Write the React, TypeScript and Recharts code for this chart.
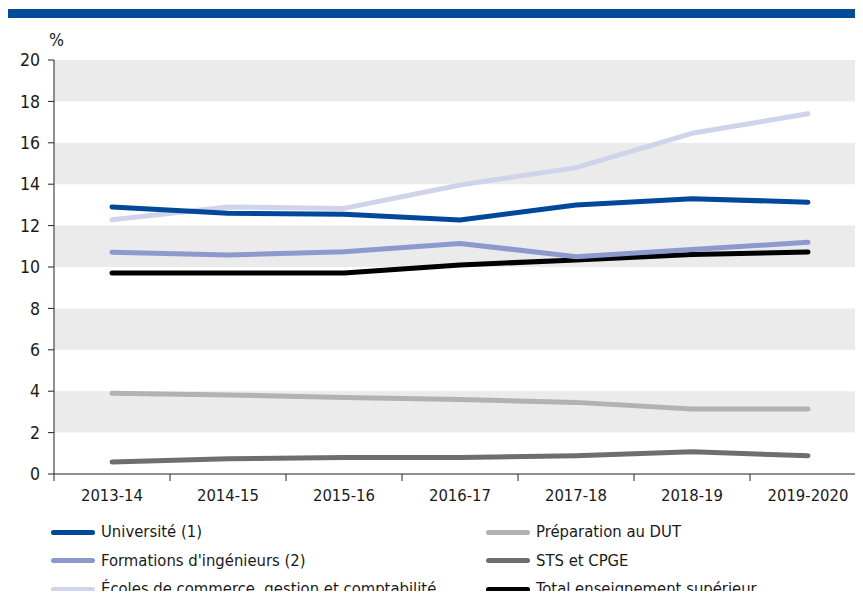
import React from 'react';
import { LineChart, Line, XAxis, YAxis, ReferenceArea } from 'recharts';

const categories = ['2013-14', '2014-15', '2015-16', '2016-17', '2017-18', '2018-19', '2019-2020'];
const universite = [12.9, 12.6, 12.55, 12.27, 13.0, 13.3, 13.13];
const ingenieurs = [10.71, 10.58, 10.74, 11.14, 10.5, 10.85, 11.19];
const ecoles = [12.28, 12.9, 12.83, 13.96, 14.8, 16.46, 17.4];
const dut = [3.9, 3.82, 3.69, 3.6, 3.46, 3.14, 3.14];
const sts = [0.58, 0.74, 0.8, 0.8, 0.88, 1.08, 0.88];
const total = [9.71, 9.71, 9.71, 10.1, 10.34, 10.6, 10.72];
const yTicks = [0, 2, 4, 6, 8, 10, 12, 14, 16, 18, 20];
const bands = [[2, 4], [6, 8], [10, 12], [14, 16], [18, 20]];

const series = [
  { key: 'total', name: 'Total enseignement supérieur', color: '#000000', values: total },
  { key: 'sts', name: 'STS et CPGE', color: '#6e6e6e', values: sts },
  { key: 'dut', name: 'Préparation au DUT', color: '#b2b2b2', values: dut },
  { key: 'ecoles', name: 'Écoles de commerce, gestion et comptabilité', color: '#cfd4ea', values: ecoles },
  { key: 'ingenieurs', name: "Formations d'ingénieurs (2)", color: '#8d99cc', values: ingenieurs },
  { key: 'universite', name: 'Université (1)', color: '#00489a', values: universite },
];

const legendCol1 = ['universite', 'ingenieurs', 'ecoles'];
const legendCol2 = ['dut', 'sts', 'total'];

const data = categories.map((c, i) => {
  const row: any = { i, cat: c };
  series.forEach((s) => { row[s.key] = s.values[i]; });
  return row;
});

const boundaryTicks = [...categories.map((_, i) => i - 0.5), categories.length - 0.5];
const labelTicks = categories.map((_, i) => i);
const FONT = "'DejaVu Sans Condensed', 'Liberation Sans Narrow', sans-serif";

function LegendItem({ k }: { k: string }) {
  const s = series.find((x) => x.key === k)!;
  return (
    <div style={{ display: 'flex', alignItems: 'center', height: 28.5 }}>
      <div style={{ width: 44, height: 5, borderRadius: 3, background: s.color, marginRight: 6 }} />
      <span style={{ fontFamily: FONT, fontSize: 16.5, color: '#1a1a1a', lineHeight: '20px' }}>{s.name}</span>
    </div>
  );
}

export default function App() {
  return (
    <div style={{ position: 'relative', width: 863, height: 599, margin: -8, overflow: 'hidden', background: '#fff' }}>
      <div style={{ position: 'absolute', left: 5, top: 9, width: 858, height: 9, background: '#004a98' }} />
      <div style={{ position: 'absolute', left: 49, top: 30, fontFamily: FONT, fontSize: 17.5, color: '#1a1a1a' }}>%</div>
      <LineChart width={870} height={599} data={data} margin={{ top: 60, right: 4, bottom: 85, left: 0 }}>
        {bands.map(([a, b]) => (
          <ReferenceArea key={a} xAxisId="b" y1={a} y2={b} fill="#ebebeb" fillOpacity={1} stroke="none" ifOverflow="visible" />
        ))}
        <YAxis
          type="number"
          domain={[0, 20]}
          ticks={yTicks}
          width={54}
          tickSize={6}
          tickMargin={8}
          axisLine={{ stroke: '#222' }}
          tickLine={{ stroke: '#222' }}
          tick={{ fill: '#1a1a1a', fontSize: 17.5, fontFamily: FONT }}
        />
        <XAxis
          xAxisId="b"
          dataKey="i"
          type="number"
          domain={[-0.5, categories.length - 0.5]}
          ticks={boundaryTicks}
          tickFormatter={() => ''}
          height={10}
          tickSize={7}
          axisLine={{ stroke: '#222' }}
          tickLine={{ stroke: '#222' }}
        />
        <XAxis
          xAxisId="l"
          dataKey="i"
          type="number"
          domain={[-0.5, categories.length - 0.5]}
          ticks={labelTicks}
          tickFormatter={(v: number) => categories[v]}
          height={30}
          tickSize={0}
          tickMargin={5}
          axisLine={false}
          tickLine={false}
          interval={0}
          tick={{ fill: '#1a1a1a', fontSize: 16.5, fontFamily: FONT }}
        />
        {series.map((s) => (
          <Line
            key={s.key}
            xAxisId="b"
            dataKey={s.key}
            stroke={s.color}
            strokeWidth={5}
            strokeLinecap="round"
            strokeLinejoin="round"
            dot={false}
            activeDot={false}
            isAnimationActive={false}
          />
        ))}
      </LineChart>
      <div style={{ position: 'absolute', left: 51, top: 518 }}>
        {legendCol1.map((k) => <LegendItem key={k} k={k} />)}
      </div>
      <div style={{ position: 'absolute', left: 486, top: 518 }}>
        {legendCol2.map((k) => <LegendItem key={k} k={k} />)}
      </div>
    </div>
  );
}
